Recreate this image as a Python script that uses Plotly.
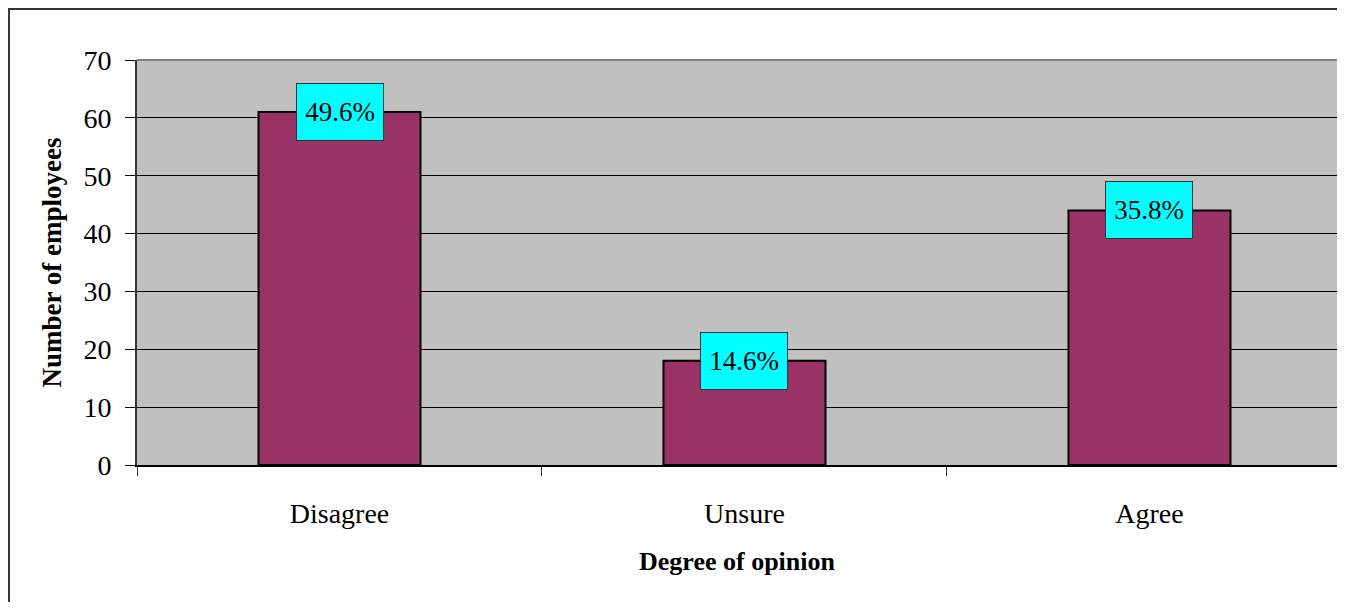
import plotly.graph_objects as go

# data
categories = ["Disagree", "Unsure", "Agree"]
employees = [61, 18, 44]
percent_labels = ["49.6%", "14.6%", "35.8%"]
y_ticks = [0, 10, 20, 30, 40, 50, 60, 70]

serif = "Liberation Serif, Times New Roman, serif"

fig = go.Figure()
fig.add_trace(go.Bar(
    x=categories,
    y=employees,
    width=0.4,
    marker=dict(color="#993366", line=dict(color="black", width=2)),
    hoverinfo="x+y",
))

# percentage labels in cyan boxes, centred on the bar tops
for cat, val, lab in zip(categories, employees, percent_labels):
    fig.add_annotation(
        x=cat, y=val, xref="x", yref="y",
        text=lab, showarrow=False,
        font=dict(family=serif, size=27, color="black"),
        bgcolor="#00FFFF", bordercolor="#333333", borderwidth=1, borderpad=1,
        width=84, height=54, xanchor="center", yanchor="middle",
    )

# outer chart border (runs off the right and bottom of the view)
fig.add_shape(type="rect", xref="paper", yref="paper",
              x0=-0.1067, x1=1.5, y0=-0.8, y1=1.126,
              line=dict(color="#333333", width=2), layer="below")
# plot-area top edge
fig.add_shape(type="line", xref="paper", yref="paper",
              x0=0, x1=1, y0=1, y1=1,
              line=dict(color="#808080", width=2))

# page body has an 8px margin, so sizes/margins are trimmed to match
fig.update_layout(
    width=1329, height=594,
    margin=dict(l=129, r=0, t=52, b=137),
    paper_bgcolor="white",
    plot_bgcolor="#C0C0C0",
    showlegend=False,
    font=dict(family=serif, color="black"),
)
fig.update_xaxes(
    type="category",
    range=[-0.5, 2.463],
    tickson="boundaries",
    ticks="outside", ticklen=9, tickcolor="#333333",
    showline=True, linecolor="black", linewidth=1.5,
    showgrid=False,
    tickfont=dict(family=serif, size=28),
    ticklabelstandoff=23,
    title=dict(text="<b>Degree of opinion</b>",
               font=dict(family=serif, size=26), standoff=23),
)
fig.update_yaxes(
    range=[0, 70],
    tickvals=y_ticks,
    ticks="outside", ticklen=10, tickcolor="black",
    showline=True, linecolor="#333333", linewidth=2,
    showgrid=True, gridcolor="black", gridwidth=1,
    zeroline=False,
    tickfont=dict(family=serif, size=28),
    ticklabelstandoff=8,
    title=dict(text="<b>Number of employees</b>",
               font=dict(family=serif, size=27), standoff=14),
)

fig.write_html("out.html")
